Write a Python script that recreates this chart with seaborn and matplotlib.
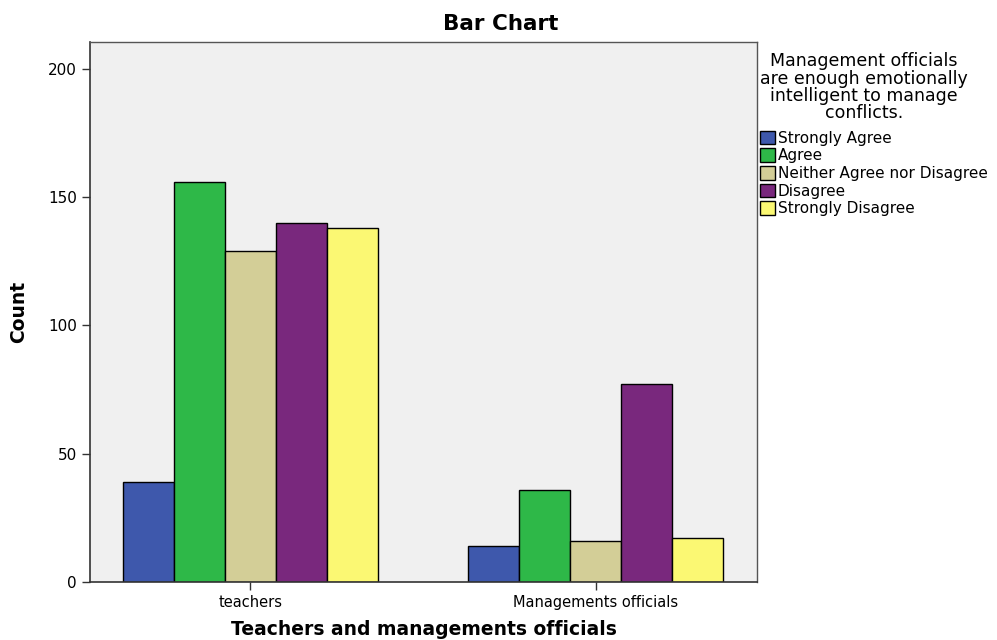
import matplotlib
matplotlib.use("Agg")
import matplotlib.pyplot as plt
import pandas as pd
import seaborn as sns

groups = ["teachers", "Managements officials"]
responses = ["Strongly Agree", "Agree", "Neither Agree nor Disagree", "Disagree", "Strongly Disagree"]
teachers_counts = [39, 156, 129, 140, 138]
officials_counts = [14, 36, 16, 77, 17]
colors = ["#3E58AC", "#2EB848", "#D3CE97", "#79287D", "#FBF873"]

df = pd.DataFrame({
    "Group": [groups[0]] * 5 + [groups[1]] * 5,
    "Response": responses * 2,
    "Count": teachers_counts + officials_counts,
})

sns.set_theme(style="white")
plt.rcParams["font.family"] = ["DejaVu Sans"]
plt.rcParams["text.color"] = "black"
plt.rcParams["axes.labelcolor"] = "black"
plt.rcParams["xtick.color"] = "black"
plt.rcParams["ytick.color"] = "black"

fig = plt.figure(figsize=(9.97, 6.4), dpi=100)
ax = fig.add_axes([0.0903, 0.0906, 0.6690, 0.8438])
ax.set_facecolor("#F0F0F0")

sns.barplot(data=df, x="Group", y="Count", hue="Response", order=groups,
            hue_order=responses, palette=colors, width=0.74, gap=0,
            edgecolor="black", linewidth=1, saturation=1, ax=ax)

ax.set_xlim(-0.465, 1.468)
ax.set_ylim(0, 210.5)
ax.set_yticks([0, 50, 100, 150, 200])
ax.tick_params(axis="both", direction="out", length=6, width=1, color="#333333",
               left=True, bottom=True)
ax.tick_params(axis="y", labelsize=11)
ax.tick_params(axis="x", labelsize=10.5)
for side in ["left", "bottom"]:
    ax.spines[side].set_color("#333333")
    ax.spines[side].set_linewidth(1.2)
for side in ["top", "right"]:
    ax.spines[side].set_color("#555555")
    ax.spines[side].set_linewidth(1)

fig.text(0.502, 0.962, "Bar Chart", fontsize=15.5, fontweight="bold", ha="center", va="center")
ax.set_xlabel("Teachers and managements officials", fontsize=13.5, fontweight="bold", labelpad=7)
ax.set_ylabel("Count", fontsize=13.5, fontweight="bold", labelpad=14)

leg = ax.legend(title="Management officials\nare enough emotionally\nintelligent to manage\nconflicts.",
                loc="upper left", bbox_to_anchor=(0.993, 0.995), frameon=False,
                fontsize=11, title_fontsize=12.5, handlelength=1.0, handleheight=1.0,
                handletextpad=0.15, labelspacing=0.17, borderaxespad=0.2,
                borderpad=0.3)
leg.get_title().set_multialignment("center")
leg.get_title().set_linespacing(0.95)
leg._legend_box.align = "left"
leg._legend_box.sep = 6

fig.savefig("out.png", dpi=100)
